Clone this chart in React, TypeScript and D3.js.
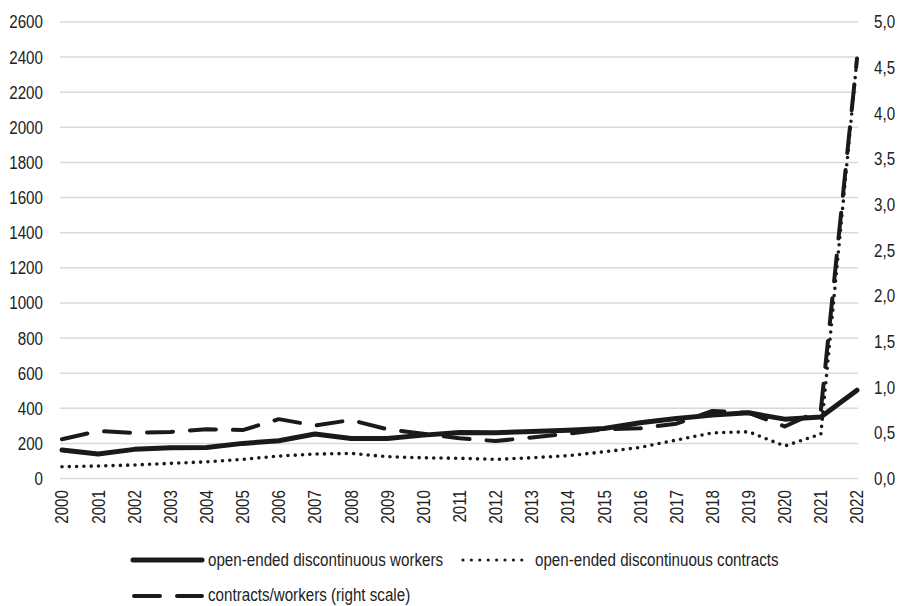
import React from "react";
import * as d3 from "d3";

const years = [2000,2001,2002,2003,2004,2005,2006,2007,2008,2009,2010,2011,2012,2013,2014,2015,2016,2017,2018,2019,2020,2021,2022];
const workers = [162,139,166,175,177,200,215,253,228,228,247,262,260,268,275,285,317,342,361,374,338,350,503];
const contracts = [67,71,77,86,95,109,128,139,143,124,118,115,109,118,130,152,177,219,260,266,185,253,2390];
const ratio = [0.43,0.52,0.50,0.51,0.54,0.53,0.65,0.58,0.64,0.54,0.49,0.44,0.41,0.45,0.49,0.54,0.55,0.60,0.74,0.72,0.57,0.75,4.6];
const leftTicks = [0,200,400,600,800,1000,1200,1400,1600,1800,2000,2200,2400,2600];
const rightTicks = [0,0.5,1,1.5,2,2.5,3,3.5,4,4.5,5];
const legendLabels = ["open-ended discontinuous workers", "open-ended discontinuous contracts", "contracts/workers (right scale)"];

const FONT = "'Liberation Sans', Arial, sans-serif";
const SX = 0.82;

export default function App() {
  const W = 899, H = 606;
  const x = d3.scaleLinear().domain([2000, 2022]).range([62, 857]);
  const yL = d3.scaleLinear().domain([0, 2600]).range([478.5, 22]);
  const yR = d3.scaleLinear().domain([0, 5]).range([478.5, 22]);

  const lineL = d3.line<number>().x((_, i) => x(years[i])).y((d) => yL(d));
  const lineR = d3.line<number>().x((_, i) => x(years[i])).y((d) => yR(d));

  const fmtR = (v: number) => v.toFixed(1).replace(".", ",");
  const fs = 18.5;
  const col = "#222";

  return (
    <svg width={W} height={H} style={{ position: "absolute", left: 0, top: 0, background: "#fff" }} fontFamily={FONT}>
      {leftTicks.map((t) => (
        <line key={"g" + t} x1={60} x2={858} y1={yL(t)} y2={yL(t)} stroke="#d9d9d9" strokeWidth={1.5} />
      ))}
      {leftTicks.map((t) => (
        <text key={"l" + t} transform={`translate(43,${yL(t)}) scale(${SX},1)`} dy="0.35em" textAnchor="end" fontSize={fs} fill={col}>{t}</text>
      ))}
      {rightTicks.map((t) => (
        <text key={"r" + t} transform={`translate(874,${yR(t)}) scale(${SX},1)`} dy="0.35em" textAnchor="start" fontSize={fs} fill={col}>{fmtR(t)}</text>
      ))}
      {years.map((yr) => (
        <text key={"x" + yr} transform={`translate(${x(yr)},490) rotate(-90) scale(${SX},1)`} dy="0.35em" textAnchor="end" fontSize={fs} fill={col}>{yr}</text>
      ))}
      <path d={lineR(ratio) || ""} fill="none" stroke="#1a1a1a" strokeWidth={4} strokeDasharray="26 17" strokeLinecap="round" strokeLinejoin="round" />
      <path d={lineL(contracts) || ""} fill="none" stroke="#1a1a1a" strokeWidth={3.6} strokeDasharray="0 7.3" strokeLinecap="round" strokeLinejoin="round" />
      <path d={lineL(workers) || ""} fill="none" stroke="#1a1a1a" strokeWidth={5} strokeLinecap="round" strokeLinejoin="round" />

      <g>
        <line x1={133} x2={202} y1={560} y2={560} stroke="#1a1a1a" strokeWidth={5} strokeLinecap="round" />
        <text transform={`translate(208,560) scale(${SX},1)`} dy="0.35em" fontSize={fs} fill={col}>{legendLabels[0]}</text>
        <line x1={463} x2={530} y1={560} y2={560} stroke="#1a1a1a" strokeWidth={3.2} strokeDasharray="0 8.4" strokeLinecap="round" />
        <text transform={`translate(535,560) scale(${SX},1)`} dy="0.35em" fontSize={fs} fill={col}>{legendLabels[1]}</text>
        <line x1={134} x2={202} y1={596} y2={596} stroke="#1a1a1a" strokeWidth={4} strokeDasharray="26 17" strokeLinecap="round" />
        <text transform={`translate(208,596) scale(${SX},1)`} dy="0.25em" fontSize={fs} fill={col}>{legendLabels[2]}</text>
      </g>
    </svg>
  );
}
